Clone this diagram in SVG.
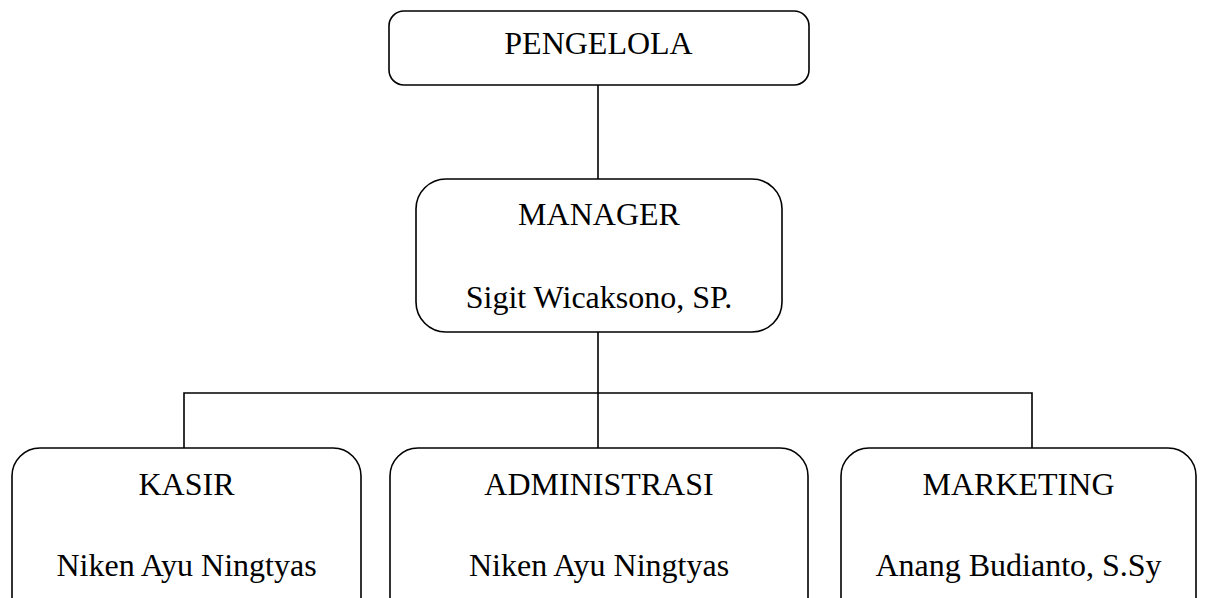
<svg xmlns="http://www.w3.org/2000/svg" width="1205" height="598" viewBox="0 0 1205 598">
<style>
.box{fill:#fff;stroke:#000;stroke-width:1.6}
.ln{stroke:#000;stroke-width:1.6;fill:none}
text{font-family:"Liberation Serif","Times New Roman",serif;font-size:32px;fill:#000;text-anchor:middle}
</style>
<rect width="1205" height="598" fill="#fff"/>
<g id="connectors">
<line class="ln" x1="598" y1="85" x2="598" y2="179"/>
<line class="ln" x1="598" y1="332" x2="598" y2="448"/>
<polyline class="ln" points="184,448 184,393 1032,393 1032,448"/>
</g>
<g id="pengelola">
<rect class="box" x="389" y="11" width="420" height="74" rx="15"/>
<text x="598.5" y="54">PENGELOLA</text>
</g>
<g id="manager">
<rect class="box" x="416" y="179" width="366" height="153" rx="30"/>
<text x="599" y="225">MANAGER</text>
<text x="599" y="308">Sigit Wicaksono, SP.</text>
</g>
<g id="kasir">
<rect class="box" x="12" y="448" width="349" height="180" rx="28"/>
<text x="186.5" y="495">KASIR</text>
<text x="186.5" y="576">Niken Ayu Ningtyas</text>
</g>
<g id="administrasi">
<rect class="box" x="390" y="448" width="418" height="180" rx="28"/>
<text x="599" y="495">ADMINISTRASI</text>
<text x="599" y="576">Niken Ayu Ningtyas</text>
</g>
<g id="marketing">
<rect class="box" x="841" y="448" width="355" height="180" rx="28"/>
<text x="1018.5" y="495">MARKETING</text>
<text x="1018.5" y="576">Anang Budianto, S.Sy</text>
</g>
</svg>
